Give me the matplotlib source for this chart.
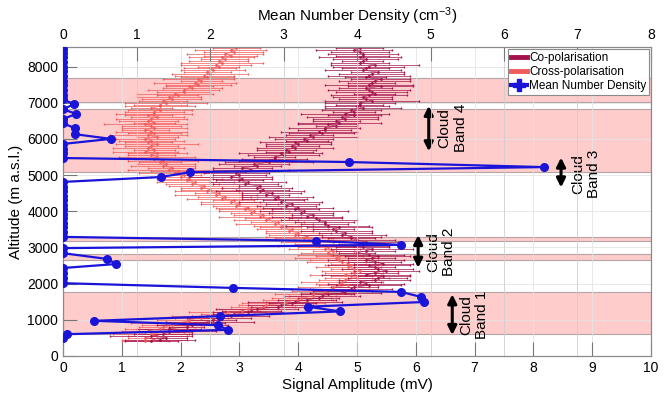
import matplotlib
matplotlib.use('Agg')
import matplotlib.pyplot as plt
from matplotlib.lines import Line2D

plt.rcParams['font.family'] = ['Liberation Sans', 'DejaVu Sans']
plt.rcParams['mathtext.default'] = 'regular'

# altitude grid of the lidar profiles (m)
alt = [400, 450, 500, 550, 600, 650, 700, 750, 800, 850,
       900, 950, 1000, 1050, 1100, 1150, 1200, 1250, 1300, 1350,
       1400, 1450, 1500, 1550, 1600, 1650, 1700, 1750, 1800, 1850,
       1900, 1950, 2000, 2050, 2100, 2150, 2200, 2250, 2300, 2350,
       2400, 2450, 2500, 2550, 2600, 2650, 2700, 2750, 2800, 2850,
       2900, 2950, 3000, 3050, 3100, 3150, 3200, 3250, 3300, 3350,
       3400, 3450, 3500, 3550, 3600, 3650, 3700, 3750, 3800, 3850,
       3900, 3950, 4000, 4050, 4100, 4150, 4200, 4250, 4300, 4350,
       4400, 4450, 4500, 4550, 4600, 4650, 4700, 4750, 4800, 4850,
       4900, 4950, 5000, 5050, 5100, 5150, 5200, 5250, 5300, 5350,
       5400, 5450, 5500, 5550, 5600, 5650, 5700, 5750, 5800, 5850,
       5900, 5950, 6000, 6050, 6100, 6150, 6200, 6250, 6300, 6350,
       6400, 6450, 6500, 6550, 6600, 6650, 6700, 6750, 6800, 6850,
       6900, 6950, 7000, 7050, 7100, 7150, 7200, 7250, 7300, 7350,
       7400, 7450, 7500, 7550, 7600, 7650, 7700, 7750, 7800, 7850,
       7900, 7950, 8000, 8050, 8100, 8150, 8200, 8250, 8300, 8350,
       8400, 8450, 8500]

co_pol = [1.5, 1.65, 1.75, 1.5, 1.7, 1.8, 1.95, 1.8, 2.1, 2.2,
          2.25, 2.5, 2.55, 2.65, 2.85, 2.9, 3.15, 3.2, 3.3, 3.65,
          3.7, 3.9, 3.95, 4.15, 4.35, 4.4, 4.5, 4.8, 4.75, 4.9,
          4.95, 5.2, 5.15, 5.05, 5.3, 5.35, 5.45, 5.15, 5.3, 5.5,
          5.35, 5.3, 5.2, 5.45, 5.3, 5.15, 5.25, 5.35, 5.2, 5.0,
          5.15, 5.25, 5.1, 4.95, 5.05, 5.15, 5.0, 4.9, 4.9, 4.75,
          4.8, 4.65, 4.6, 4.7, 4.5, 4.45, 4.45, 4.35, 4.3, 4.15,
          4.25, 4.05, 4.1, 3.95, 4.0, 3.8, 3.9, 3.7, 3.75, 3.6,
          3.65, 3.45, 3.55, 3.35, 3.4, 3.3, 3.35, 3.1, 3.15, 3.0,
          3.05, 2.85, 3.0, 2.95, 3.1, 3.2, 3.05, 3.3, 3.25, 3.5,
          3.45, 3.6, 3.6, 3.75, 3.7, 3.85, 3.8, 3.95, 3.9, 4.0,
          3.95, 4.15, 4.1, 4.25, 4.2, 4.4, 4.35, 4.45, 4.45, 4.65,
          4.5, 4.7, 4.65, 4.8, 4.75, 4.95, 4.8, 4.95, 4.9, 5.1,
          5.0, 5.05, 5.05, 5.25, 5.15, 5.1, 5.2, 5.3, 5.25, 5.2,
          5.15, 5.4, 5.2, 5.25, 5.3, 5.4, 5.15, 5.2, 5.25, 5.35,
          5.1, 5.15, 5.2, 5.3, 5.05, 5.1, 5.15, 5.05, 5.1, 5.1,
          5.05, 4.95, 5.05]

cross_pol = [1.4, 1.55, 1.4, 1.6, 1.5, 1.7, 1.45, 1.65, 1.7, 1.85,
             1.85, 2.1, 2.15, 2.35, 2.45, 2.75, 2.8, 3.05, 3.15, 3.4,
             3.45, 3.75, 3.8, 4.0, 4.05, 4.25, 4.25, 4.5, 4.45, 4.6,
             4.6, 4.85, 4.7, 4.75, 4.8, 5.0, 4.9, 4.8, 4.95, 5.05,
             4.95, 4.85, 4.9, 4.85, 4.75, 4.7, 4.65, 4.7, 4.55, 4.5,
             4.6, 4.45, 4.5, 4.3, 4.35, 4.25, 4.25, 4.1, 4.15, 3.95,
             4.0, 3.85, 3.9, 3.7, 3.75, 3.6, 3.65, 3.45, 3.5, 3.35,
             3.4, 3.2, 3.25, 3.1, 3.15, 2.95, 3.0, 2.85, 2.9, 2.7,
             2.75, 2.6, 2.65, 2.45, 2.5, 2.35, 2.4, 2.2, 2.25, 2.1,
             2.15, 2.0, 2.05, 1.9, 1.95, 1.8, 1.85, 1.7, 1.75, 1.65,
             1.7, 1.55, 1.6, 1.5, 1.6, 1.4, 1.55, 1.45, 1.5, 1.6,
             1.45, 1.5, 1.4, 1.6, 1.45, 1.55, 1.5, 1.4, 1.55, 1.5,
             1.4, 1.55, 1.45, 1.5, 1.6, 1.45, 1.55, 1.55, 1.65, 1.5,
             1.65, 1.65, 1.75, 1.7, 1.85, 1.8, 1.95, 1.9, 2.05, 2.05,
             2.2, 2.15, 2.3, 2.25, 2.35, 2.3, 2.45, 2.4, 2.5, 2.45,
             2.55, 2.5, 2.65, 2.6, 2.7, 2.65, 2.75, 2.7, 2.85, 2.75,
             2.9, 2.85, 2.95]

co_err = [0.45, 0.6, 0.35, 0.7, 0.5, 0.4, 0.65, 0.55, 0.3, 0.6,
          0.5, 0.75, 0.4, 0.55, 0.65, 0.35, 0.6, 0.5, 0.7, 0.45,
          0.55, 0.4, 0.8, 0.5, 0.35, 0.65, 0.45, 0.6, 0.5, 0.7,
          0.4, 0.55, 0.65, 0.35, 0.6, 0.5, 0.45, 0.75, 0.4, 0.55,
          0.6, 0.35, 0.7, 0.5, 0.45, 0.65, 0.4, 0.55, 0.6, 0.3,
          0.5, 0.7, 0.45, 0.6, 0.35, 0.55, 0.65, 0.4, 0.5, 0.75,
          0.45, 0.6, 0.35, 0.55, 0.7, 0.4, 0.5, 0.65, 0.45, 0.6,
          0.35, 0.55, 0.75, 0.4, 0.6, 0.5, 0.45, 0.7, 0.35, 0.55,
          0.6, 0.4, 0.5, 0.75, 0.45, 0.6, 0.35, 0.55, 0.65, 0.4,
          0.5, 0.7, 0.45, 0.55, 0.35, 0.65, 0.5, 0.4, 0.6, 0.75,
          0.45, 0.55, 0.35, 0.6, 0.7, 0.4, 0.5, 0.65, 0.45, 0.55,
          0.6, 0.35, 0.5, 0.75, 0.4, 0.55, 0.65, 0.45, 0.6, 0.35,
          0.5, 0.7, 0.4, 0.55, 0.6, 0.45, 0.75, 0.35, 0.5, 0.65,
          0.55, 0.4, 0.6, 0.8, 0.45, 0.5, 0.65, 0.35, 0.6, 0.7,
          0.45, 0.55, 0.75, 0.4, 0.6, 0.5, 0.35, 0.7, 0.55, 0.45,
          0.65, 0.4, 0.6, 0.75, 0.5, 0.35, 0.55, 0.7, 0.45, 0.6,
          0.5, 0.65, 0.4]

cross_err = [0.4, 0.55, 0.3, 0.5, 0.65, 0.35, 0.45, 0.6, 0.4, 0.5,
             0.7, 0.35, 0.55, 0.45, 0.6, 0.4, 0.65, 0.3, 0.5, 0.55,
             0.45, 0.7, 0.35, 0.6, 0.5, 0.4, 0.65, 0.45, 0.55, 0.35,
             0.6, 0.5, 0.4, 0.7, 0.45, 0.55, 0.35, 0.6, 0.5, 0.65,
             0.4, 0.55, 0.45, 0.3, 0.6, 0.5, 0.7, 0.4, 0.55, 0.45,
             0.35, 0.6, 0.5, 0.65, 0.4, 0.55, 0.3, 0.5, 0.7, 0.45,
             0.55, 0.4, 0.6, 0.35, 0.5, 0.65, 0.45, 0.55, 0.4, 0.7,
             0.5, 0.35, 0.6, 0.45, 0.55, 0.4, 0.65, 0.5, 0.35, 0.6,
             0.45, 0.7, 0.4, 0.55, 0.5, 0.35, 0.6, 0.45, 0.65, 0.4,
             0.55, 0.5, 0.3, 0.6, 0.45, 0.7, 0.4, 0.55, 0.5, 0.35,
             0.6, 0.45, 0.65, 0.4, 0.5, 0.55, 0.35, 0.6, 0.45, 0.7,
             0.4, 0.55, 0.5, 0.35, 0.65, 0.45, 0.6, 0.4, 0.55, 0.5,
             0.7, 0.35, 0.5, 0.6, 0.45, 0.4, 0.65, 0.5, 0.55, 0.35,
             0.6, 0.45, 0.7, 0.4, 0.5, 0.55, 0.35, 0.65, 0.45, 0.6,
             0.5, 0.4, 0.55, 0.7, 0.35, 0.6, 0.45, 0.5, 0.65, 0.4,
             0.55, 0.45, 0.35, 0.6, 0.7, 0.5, 0.4, 0.55, 0.45, 0.65,
             0.5, 0.6, 0.4]

# mean number density profile
dens_alt = [500, 600, 720, 850, 970, 1100, 1230, 1360, 1490, 1630,
            1770, 1880, 2010, 2140, 2280, 2430, 2540, 2680, 2840, 2980,
            3070, 3180, 3290, 3420, 3550, 3680, 3800, 3930, 4060, 4180,
            4310, 4430, 4560, 4680, 4810, 4945, 5080, 5220, 5360, 5470,
            5600, 5730, 5860, 6000, 6130, 6300, 6430, 6550, 6690, 6820,
            6960, 7090, 7220, 7350, 7480, 7610, 7740, 7870, 8000, 8130,
            8250, 8370, 8480]
density = [0, 0.05, 2.24, 2.11, 0.42, 2.14, 3.77, 3.33, 4.91, 4.87,
           4.6, 2.31, 0, 0, 0, 0, 0.72, 0.6, 0, 0,
           4.6, 3.44, 0, 0, 0, 0, 0, 0, 0, 0,
           0, 0, 0, 0, 0, 1.33, 1.73, 6.54, 3.89, 0,
           0, 0, 0, 0.65, 0.16, 0.16, 0, 0, 0.18, 0,
           0.15, 0, 0, 0, 0, 0, 0, 0, 0, 0,
           0, 0, 0]

cloud_bands = [(610, 1780), (2660, 2830), (3180, 3290), (5080, 6830), (7030, 7690)]

# (label, arrow x in mV, arrow bottom, arrow top, text x, text y)
band_labels = [('Cloud\nBand 1', 6.62, 500, 1780, 6.99, 1130),
               ('Cloud\nBand 2', 6.04, 2360, 3420, 6.43, 2870),
               ('Cloud\nBand 3', 8.47, 4580, 5560, 8.9, 5030),
               ('Cloud\nBand 4', 6.22, 5580, 6990, 6.63, 6300)]

co_col = '#a3124c'
cross_col = '#f15a5a'
blue = '#1a14d9'

fig = plt.figure(figsize=(6.67, 3.95), dpi=100)
ax = fig.add_axes([0.0945, 0.099, 0.8815, 0.782])

for lo, hi in cloud_bands:
    ax.axhspan(lo, hi, facecolor='#ffcccc', edgecolor='#b4a4a4', lw=0.8, zorder=0)

ax.errorbar(cross_pol, alt, xerr=cross_err, fmt='.-', color=cross_col, ms=2,
            lw=0.4, elinewidth=0.5, capsize=1.0, zorder=2)
ax.errorbar(co_pol, alt, xerr=co_err, fmt='.-', color=co_col, ms=2,
            lw=0.4, elinewidth=0.5, capsize=1.0, zorder=2)

ax.set_xlim(0, 10)
ax.set_ylim(0, 8540)
ax.set_xticks(range(0, 11))
ax.set_yticks(range(0, 8001, 1000))
ax.tick_params(direction='in', length=10, color='#777777', labelsize=10, width=0.8)
ax.grid(color='#e4e4e4', lw=0.6)
ax.set_axisbelow(True)
ax.set_xlabel('Signal Amplitude (mV)', fontsize=11, labelpad=2)
ax.set_ylabel('Altitude (m a.s.l.)', fontsize=11, labelpad=3)
for s in ax.spines.values():
    s.set_color('#8a8a8a')

for txt, xa, y0, y1, xt, yt in band_labels:
    ax.annotate('', xy=(xa, y0), xytext=(xa, y1),
                arrowprops=dict(arrowstyle='<|-|>', color='k', lw=2.2, mutation_scale=13))
    ax.text(xt, yt, txt, rotation=90, ha='center', va='center', fontsize=11)

ax2 = ax.twiny()
ax2.set_xlim(0, 8)
ax2.set_xticks(range(0, 9))
ax2.plot(density, dens_alt, '-o', color=blue, lw=1.6, ms=5.5, zorder=3)
ax2.tick_params(direction='in', length=10, color='#777777', labelsize=10, width=0.8)
ax2.grid(axis='x', color='#cfcfcf', lw=0.6)
ax2.set_xlabel('Mean Number Density (cm$^{-3}$)', fontsize=11, labelpad=5)
for s in ax2.spines.values():
    s.set_color('#8a8a8a')

handles = [Line2D([], [], color=co_col, lw=3.5),
           Line2D([], [], color=cross_col, lw=3.5),
           Line2D([], [], color=blue, lw=3, marker='P', ms=9)]
leg = ax2.legend(handles, ['Co-polarisation', 'Cross-polarisation', 'Mean Number Density'],
                 loc='upper right', bbox_to_anchor=(0.997, 0.992), borderaxespad=0,
                 fontsize=8.5, handlelength=1.3, handletextpad=0.2, labelspacing=0.15,
                 borderpad=0.25, fancybox=False, framealpha=1, edgecolor='#8a8a8a')
leg.get_frame().set_linewidth(0.8)

fig.savefig('out.png', dpi=100)
